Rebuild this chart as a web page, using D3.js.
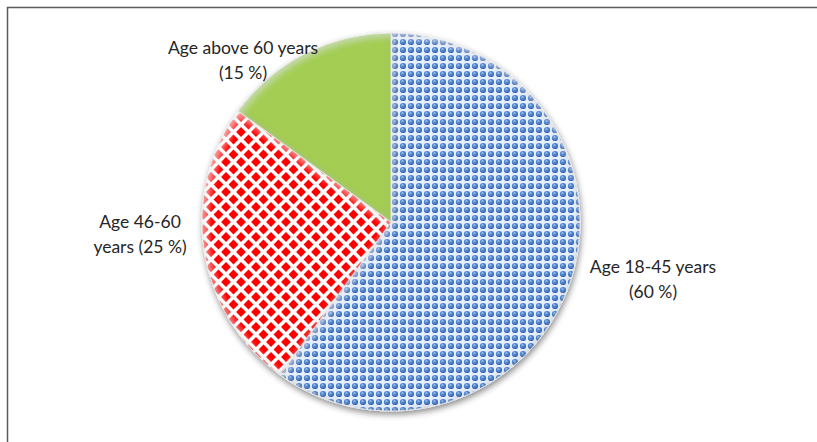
<!DOCTYPE html>
<html><head><meta charset="utf-8">
<script src="https://cdn.jsdelivr.net/npm/d3@7"></script>
<style>html,body{margin:0;padding:0;background:#fff;}svg{display:block;}</style>
</head><body>
<svg id="chart" width="817" height="442"></svg>
<script>
const categories = ["Age 18-45 years", "Age 46-60 years", "Age above 60 years"];
const values = [60, 25, 15];
const labelLines = [["Age 18-45 years", "(60 %)"], ["Age 46-60", "years (25 %)"], ["Age above 60 years", "(15 %)"]];

const svg = d3.select("#chart");
const W = 817, H = 442;
const cx = 391, cy = 222, R = 189;

const defs = svg.append("defs");

// Blue sphere pattern
const pb = defs.append("pattern").attr("id", "pBlue").attr("patternUnits", "userSpaceOnUse")
  .attr("width", 8).attr("height", 8);
pb.append("rect").attr("width", 8).attr("height", 8).attr("fill", "#e6eef9");
const bg = defs.append("radialGradient").attr("id", "ball").attr("cx", "40%").attr("cy", "35%").attr("r", "65%");
bg.append("stop").attr("offset", "0%").attr("stop-color", "#a8c8f0");
bg.append("stop").attr("offset", "40%").attr("stop-color", "#5289d4");
bg.append("stop").attr("offset", "100%").attr("stop-color", "#3565ad");
pb.append("circle").attr("cx", 4).attr("cy", 4).attr("r", 3.1).attr("fill", "url(#ball)");

// Red diamond pattern
const pr = defs.append("pattern").attr("id", "pRed").attr("patternUnits", "userSpaceOnUse")
  .attr("width", 15).attr("height", 15);
pr.append("rect").attr("width", 15).attr("height", 15).attr("fill", "#ffffff");
const dia = (x, y, s) => `M${x},${y - s}L${x + s},${y}L${x},${y + s}L${x - s},${y}Z`;
[[0, 0], [15, 0], [0, 15], [15, 15], [7.5, 7.5]].forEach(([x, y]) =>
  pr.append("path").attr("d", dia(x, y, 4.9)).attr("fill", "#ff0000"));

// Green gradient
const gg = defs.append("linearGradient").attr("id", "gGreen").attr("gradientUnits", "userSpaceOnUse")
  .attr("x1", 0).attr("y1", cy - R).attr("x2", 0).attr("y2", cy);
gg.append("stop").attr("offset", "0%").attr("stop-color", "#a4cd52");
gg.append("stop").attr("offset", "70%").attr("stop-color", "#99c347");
gg.append("stop").attr("offset", "100%").attr("stop-color", "#80a534");

// bevel filter: inner edge darkening + top-left highlight
const f = defs.append("filter").attr("id", "bevel").attr("x", "-10%").attr("y", "-10%").attr("width", "120%").attr("height", "120%");
f.append("feGaussianBlur").attr("in", "SourceAlpha").attr("stdDeviation", 3.5).attr("result", "blur");
f.append("feFlood").attr("flood-color", "#1a2a00").attr("flood-opacity", 0.4).attr("result", "dark");
f.append("feComposite").attr("in", "dark").attr("in2", "blur").attr("operator", "out").attr("result", "darkOut");
f.append("feComposite").attr("in", "darkOut").attr("in2", "SourceAlpha").attr("operator", "in").attr("result", "inner");
f.append("feOffset").attr("in", "blur").attr("dx", 2).attr("dy", 3).attr("result", "blurOff");
f.append("feFlood").attr("flood-color", "#ffffff").attr("flood-opacity", 0.45).attr("result", "light");
f.append("feComposite").attr("in", "light").attr("in2", "blurOff").attr("operator", "out").attr("result", "lightOut");
f.append("feComposite").attr("in", "lightOut").attr("in2", "SourceAlpha").attr("operator", "in").attr("result", "hl");
const m = f.append("feMerge");
m.append("feMergeNode").attr("in", "SourceGraphic");
m.append("feMergeNode").attr("in", "inner");
m.append("feMergeNode").attr("in", "hl");

// drop shadow
const ds = defs.append("filter").attr("id", "shadow").attr("x", "-10%").attr("y", "-10%").attr("width", "120%").attr("height", "125%");
ds.append("feDropShadow").attr("dx", 1).attr("dy", 3).attr("stdDeviation", 3).attr("flood-color", "#000").attr("flood-opacity", 0.45);

// frame
svg.append("path").attr("d", `M7.5,${H}V7.5H${W}`).attr("fill", "none").attr("stroke", "#5a5a5a").attr("stroke-width", 1.5);

const fills = ["url(#pBlue)", "url(#pRed)", "url(#gGreen)"];
const pie = d3.pie().sort(null).value(d => d)(values);
const arc = d3.arc().innerRadius(0).outerRadius(R);

const g = svg.append("g").attr("transform", `translate(${cx},${cy})`).attr("filter", "url(#shadow)");
g.selectAll("path.slice").data(pie).join("path")
  .attr("class", "slice")
  .attr("d", arc)
  .attr("fill", (d, i) => fills[i])
  .attr("stroke", "#ffffff").attr("stroke-width", 0.8)
  .attr("filter", "url(#bevel)");

// labels
const labelPos = [[653, 267], [140, 222], [243, 48]];
const lg = svg.append("g").attr("font-family", "Lato, 'Open Sans', sans-serif").attr("font-size", 17.5).attr("fill", "#262626");
labelLines.forEach((lines, i) => {
  const t = lg.append("text").attr("text-anchor", "middle");
  lines.forEach((s, j) => t.append("tspan").attr("x", labelPos[i][0]).attr("y", labelPos[i][1] + 6 + j * 25).text(s));
});
</script>
</body></html>
